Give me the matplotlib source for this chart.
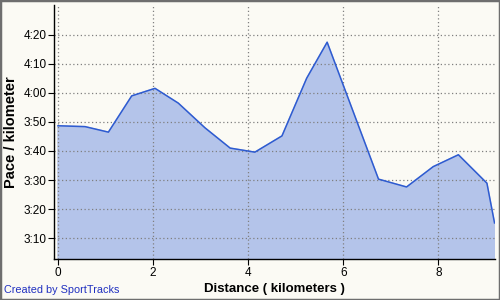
import matplotlib
matplotlib.use("Agg")
import matplotlib.pyplot as plt
from matplotlib.ticker import FuncFormatter
from matplotlib.patches import Rectangle

# distance (km) and pace (seconds per km)
distance_km = [0.00, 0.57, 1.06, 1.55, 2.04, 2.53, 3.09, 3.62, 4.14, 4.71,
               5.23, 5.66, 6.74, 7.33, 7.89, 8.42, 9.02, 9.18]
pace_sec = [228.7, 228.4, 226.5, 239.0, 241.6, 236.5, 228.0, 221.0, 219.6, 225.2,
            245.1, 257.5, 210.3, 207.6, 214.6, 218.7, 208.9, 195.2]

x_ticks = [0, 2, 4, 6, 8]
y_ticks = [190, 200, 210, 220, 230, 240, 250, 260]

bg = "#FBFAF4"
plt.rcParams["font.family"] = ["Liberation Sans", "DejaVu Sans"]

fig = plt.figure(figsize=(5, 3), dpi=100, facecolor=bg)
ax = fig.add_axes([0.108, 0.137, 0.882, 0.846])
ax.set_facecolor(bg)

ax.fill_between(distance_km, pace_sec, 0, color="#B4C4EA", zorder=2)
ax.plot(distance_km, pace_sec, color="#2E5BD0", lw=1.1, zorder=3)

ax.set_xlim(-0.084, 9.19)
ax.set_ylim(182.8, 270.3)
ax.set_xticks(x_ticks)
ax.set_yticks(y_ticks)

def fmt_pace(v, pos):
    v = int(round(v))
    return "%d:%02d" % (v // 60, v % 60)

ax.yaxis.set_major_formatter(FuncFormatter(fmt_pace))
ax.grid(True, color="#808080", lw=0.9, linestyle=(0, (1, 2)), zorder=4)
ax.set_axisbelow(False)

for s in ["top", "right"]:
    ax.spines[s].set_visible(False)
for s in ["left", "bottom"]:
    ax.spines[s].set_color("black")
    ax.spines[s].set_linewidth(1.0)
    ax.spines[s].set_zorder(5)

ax.tick_params(axis="both", direction="out", length=4, width=0.8,
               labelsize=8.5, colors="black", pad=1.5)

ax.set_xlabel("Distance ( kilometers )", fontsize=9.5, fontweight="bold", labelpad=3)
ax.set_ylabel("Pace / kilometer", fontsize=10.5, fontweight="bold", labelpad=4)

fig.text(0.008, 0.022, "Created by SportTracks", color="#2030C0", fontsize=7.8)

fig.patches.append(Rectangle((0, 0), 1, 1, transform=fig.transFigure,
                             fill=False, edgecolor="#6E6E6E", lw=2.5, zorder=10))

fig.savefig("out.png", dpi=100, facecolor=bg)
